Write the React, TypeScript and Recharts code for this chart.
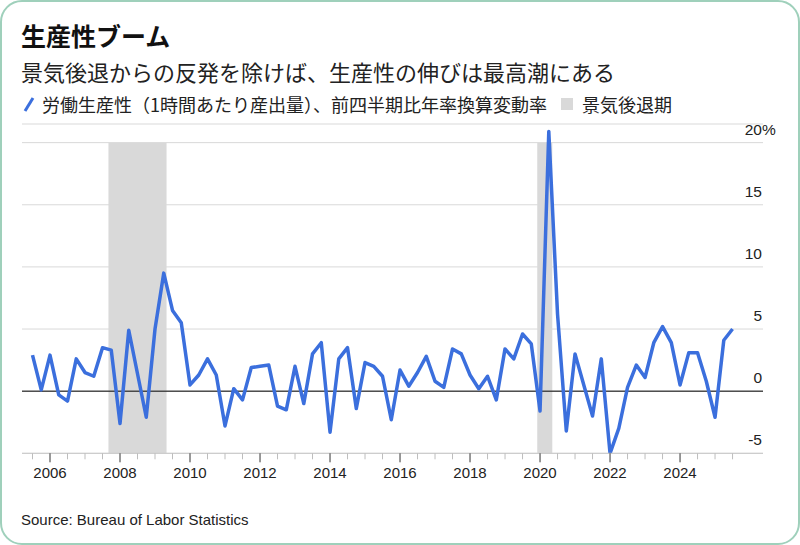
import { LineChart, Line, XAxis, YAxis, CartesianGrid, ReferenceArea, ReferenceLine } from "recharts";

// quarterly series, first observation mid-2005
const firstQuarter = 2005.5;
const productivity = [
  2.9, 0.1, 2.9, -0.3, -0.8, 2.6, 1.5, 1.2, 3.5, 3.3,
  -2.6, 4.9, 1.4, -2.1, 5.0, 9.5, 6.5, 5.5, 0.5, 1.3,
  2.6, 1.3, -2.8, 0.2, -0.7, 1.9, 2.0, 2.1, -1.2, -1.5,
  2.0, -1.0, 3.0, 3.9, -3.3, 2.6, 3.5, -1.4, 2.3, 2.0,
  1.2, -2.3, 1.7, 0.4, 1.5, 2.8, 0.8, 0.3, 3.4, 3.0,
  1.3, 0.2, 1.2, -0.7, 3.4, 2.6, 4.6, 3.8, -1.6, 20.9,
  6.2, -3.2, 3.0, 0.5, -2.0, 2.6, -5.0, -3.0, 0.3, 2.1,
  1.1, 3.9, 5.2, 3.9, 0.5, 3.1, 3.1, 0.8, -2.1, 4.1,
  5.0,
];
const recessions = [
  { start: 2007.67, end: 2009.33 },
  { start: 2019.92, end: 2020.35 },
];
const yTicks = [-5, 0, 5, 10, 15, 20];
const labelYears = [2006, 2008, 2010, 2012, 2014, 2016, 2018, 2020, 2022, 2024];
const halfYearTicks: number[] = [];
for (let t = 2005.5; t <= 2025.5; t += 0.5) halfYearTicks.push(t);

const data = productivity.map((v, i) => ({ t: firstQuarter + i * 0.25, v }));

const BLUE = "#3b6fdd";
const SHADE = "#d9d9d9";
const NUM_FONT = "'Liberation Sans', Arial, sans-serif";
const JP_FONT = "'Noto Sans CJK JP', 'Noto Sans', sans-serif";

const YearTick = (props: any) => {
  const { x, y, payload } = props;
  const major = labelYears.includes(payload.value);
  return (
    <g>
      <line x1={x} x2={x} y1={y} y2={y + (major ? 9 : 6)} stroke={major ? "#333" : "#bdbdbd"} strokeWidth={1} />
      {major && (
        <text x={x} y={y + 25} textAnchor="middle" fontSize={15} fontFamily={NUM_FONT} fill="#222">
          {payload.value}
        </text>
      )}
    </g>
  );
};

// labels sit above their gridline, right aligned with its end
const ValueTick = (props: any) => {
  const { y, payload } = props;
  const x = props.x - 1;
  return (
    <g>
      <text x={x} y={y - 8} textAnchor="end" fontSize={15.5} fontFamily={NUM_FONT} fill="#222">
        {payload.value}
      </text>
      {payload.value === 20 && (
        <text x={x} y={y - 8} textAnchor="start" fontSize={15.5} fontFamily={NUM_FONT} fill="#222">
          %
        </text>
      )}
    </g>
  );
};

export default function App() {
  return (
    <div
      style={{
        position: "relative",
        width: 800,
        height: 545,
        boxSizing: "border-box",
        border: "2px solid #9fd0bb",
        borderRadius: 22,
        background: "#fff",
        overflow: "hidden",
      }}
    >
      <style>{"body{margin:0}"}</style>
      <div
        style={{
          position: "absolute",
          left: 19,
          top: 21,
          fontFamily: JP_FONT,
          fontSize: 25,
          fontWeight: 700,
          lineHeight: 1,
          color: "#111",
        }}
      >
        生産性ブーム
      </div>
      <div
        style={{
          position: "absolute",
          left: 19,
          top: 58,
          fontFamily: JP_FONT,
          fontSize: 22,
          lineHeight: 1,
          color: "#222",
        }}
      >
        景気後退からの反発を除けば、生産性の伸びは最高潮にある
      </div>
      <div
        style={{
          position: "absolute",
          left: 20,
          top: 93,
          display: "flex",
          alignItems: "center",
          fontFamily: JP_FONT,
          fontSize: 18,
          lineHeight: 1,
          color: "#222",
          whiteSpace: "nowrap",
        }}
      >
        <svg width={14} height={16} style={{ marginRight: 6 }}>
          <line x1={3} y1={15} x2={11} y2={2} stroke={BLUE} strokeWidth={3} />
        </svg>
        <span>労働生産性（1時間あたり産出量）、前四半期比年率換算変動率</span>
        <span style={{ width: 12, height: 12, background: SHADE, marginLeft: 14, marginRight: 9, display: "inline-block" }} />
        <span>景気後退期</span>
      </div>

      <div style={{ position: "absolute", left: -2, top: -2 }}>
        <LineChart
          width={800}
          height={545}
          data={data}
          margin={{ top: 124, right: 36, bottom: 51.7, left: 22 }}
        >
          <XAxis
            dataKey="t"
            type="number"
            domain={[2005.2, 2026.37]}
            ticks={halfYearTicks}
            interval={0}
            height={40}
            axisLine={{ stroke: "#c8c8c8" }}
            tickLine={false}
            tickSize={0}
            tickMargin={0}
            tick={<YearTick />}
            allowDataOverflow
          />
          <YAxis
            orientation="right"
            type="number"
            domain={[-5, 21.5]}
            ticks={yTicks}
            width={1}
            axisLine={false}
            tickLine={false}
            tickSize={0}
            tickMargin={0}
            tick={<ValueTick />}
            allowDataOverflow
          />
          {recessions.map((r) => (
            <ReferenceArea
              key={r.start}
              x1={r.start}
              x2={r.end}
              y1={-5}
              y2={20}
              fill={SHADE}
              fillOpacity={1}
              stroke="none"
            />
          ))}
          <CartesianGrid vertical={false} stroke="#d9d9d9" />
          <ReferenceLine y={0} stroke="#000" strokeWidth={1} />
          <Line
            type="linear"
            dataKey="v"
            stroke={BLUE}
            strokeWidth={3.5}
            dot={false}
            isAnimationActive={false}
            strokeLinejoin="round"
          />
        </LineChart>
      </div>

      <div
        style={{
          position: "absolute",
          left: 19,
          top: 510,
          fontFamily: NUM_FONT,
          fontSize: 15,
          lineHeight: 1,
          color: "#222",
        }}
      >
        Source: Bureau of Labor Statistics
      </div>
    </div>
  );
}
